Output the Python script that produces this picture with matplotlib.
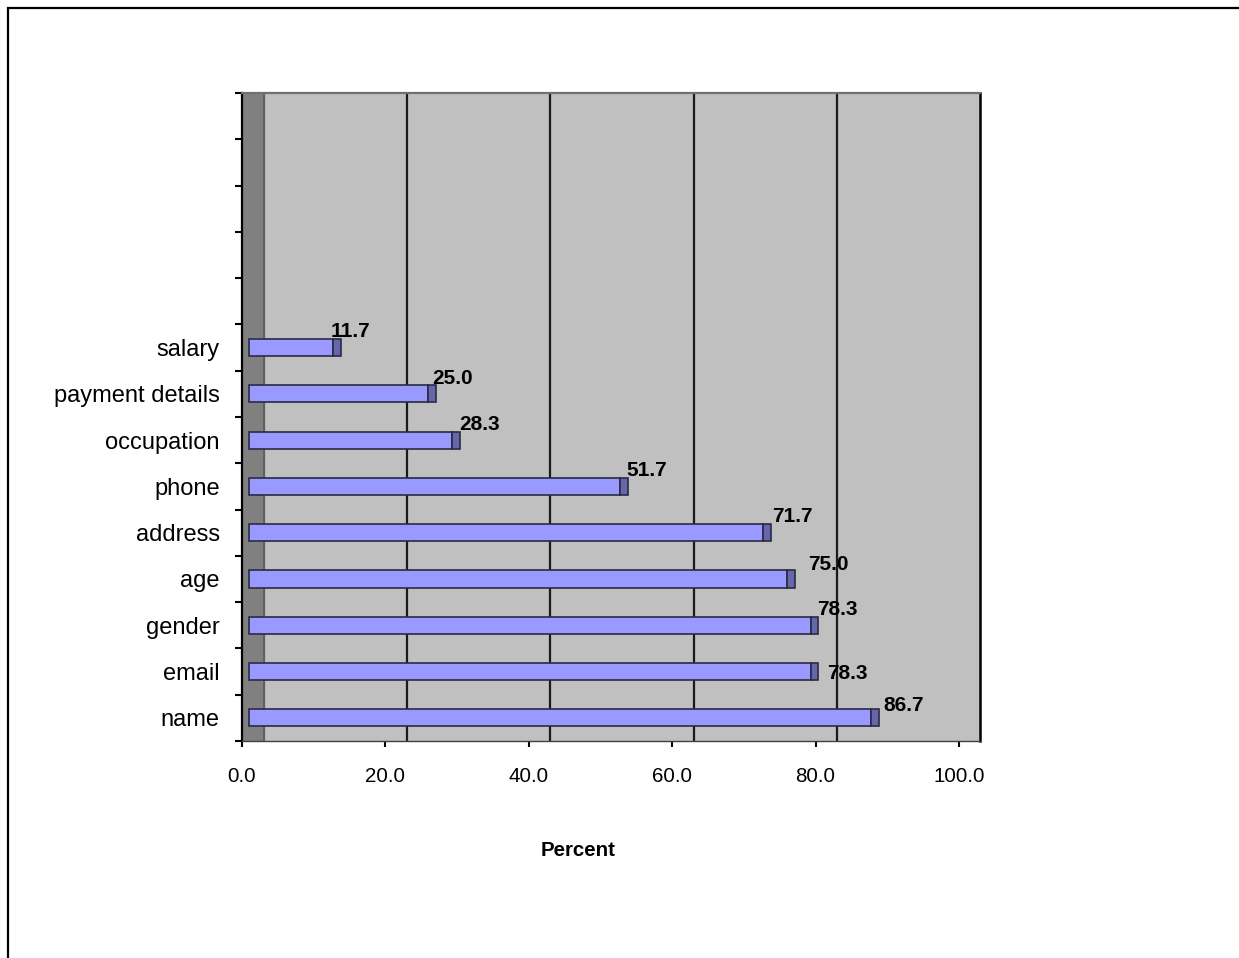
import matplotlib
matplotlib.use("Agg")
import matplotlib.pyplot as plt
from matplotlib.patches import Rectangle

categories = ["name", "email", "gender", "age", "address", "phone",
              "occupation", "payment details", "salary"]
values = [86.7, 78.3, 78.3, 75.0, 71.7, 51.7, 28.3, 25.0, 11.7]
xticks = [0, 20, 40, 60, 80, 100]

# label nudges in pixels (Excel 3D placement is irregular)
label_dx = [13, 17, 7, 21, 9, 7, 7, 4, -2]
label_dy = [12, -2, 16, 15, 16, 16, 16, 15, 16]

plt.rcParams["font.family"] = ["Liberation Sans", "DejaVu Sans"]

W, H = 1239, 958
fig = plt.figure(figsize=(W / 100, H / 100), dpi=100)
fig.patch.set_facecolor("white")

# outer chart border (only top/left visible)
fig.patches.append(Rectangle((8 / W, -0.1), 1.2, 1.1 - 8 / H,
                             transform=fig.transFigure, fill=False,
                             edgecolor="black", linewidth=1.6))

px = 7.17                 # pixels per data unit
left_px, right_px = 242, 980
top_px, bot_px = 93, 741
ax = fig.add_axes([left_px / W, 1 - bot_px / H,
                   (right_px - left_px) / W, (bot_px - top_px) / H])
ax.set_xlim(0, (right_px - left_px) / px)
nslots = 14
ax.set_ylim(-0.5, nslots - 0.5)

depth = 3.0               # back wall offset in data units
ax.set_facecolor("#C0C0C0")
ax.axvspan(0, depth, color="#808080", zorder=0)
ax.axvline(depth, color="#5a5a5a", lw=1.2, zorder=1)
for t in xticks[1:-1]:
    ax.axvline(t + depth, color="#1a1a1a", lw=1.6, zorder=1)

bar_start = 1.0
bar_h = 0.37
side = 1.1
ypos = list(range(len(categories)))
ax.barh(ypos, values, left=bar_start, height=bar_h, color="#9999FF",
        edgecolor="#2a2a44", linewidth=1.2, zorder=3)
ax.barh(ypos, [side] * len(values), left=[bar_start + v for v in values],
        height=bar_h, color="#6666AA", edgecolor="#2a2a44", linewidth=1.2,
        zorder=3)

for y, v, dx, dy in zip(ypos, values, label_dx, label_dy):
    ax.annotate(f"{v:.1f}", xy=(bar_start + v, y), xytext=(dx, dy),
                textcoords="offset pixels", ha="left", va="center",
                fontsize=15, fontweight="bold", zorder=5)

# axes styling
ax.spines["left"].set_color("black")
ax.spines["left"].set_linewidth(1.6)
ax.spines["bottom"].set_color("#404040")
ax.spines["bottom"].set_linewidth(1.0)
ax.spines["top"].set_color("#707070")
ax.spines["top"].set_linewidth(1.6)
ax.spines["right"].set_color("black")
ax.spines["right"].set_linewidth(1.8)

ax.set_xticks(xticks)
ax.set_xticklabels([f"{t:.1f}" for t in xticks])
ax.tick_params(axis="x", direction="out", length=4, width=1.5,
               pad=15, labelsize=14.8, color="black")

ax.set_yticks([i - 0.5 for i in range(nslots + 1)])
ax.set_yticklabels([])
ax.tick_params(axis="y", which="major", direction="out", length=5,
               width=1.5, color="black")
ax.set_yticks(ypos, minor=True)
ax.set_yticklabels(categories, minor=True)
ax.tick_params(axis="y", which="minor", length=0, pad=16, labelsize=17)

fig.text(578 / W, 1 - 851 / H, "Percent", ha="center", va="center",
         fontsize=14.8, fontweight="bold")

fig.savefig("out.png", dpi=100)
